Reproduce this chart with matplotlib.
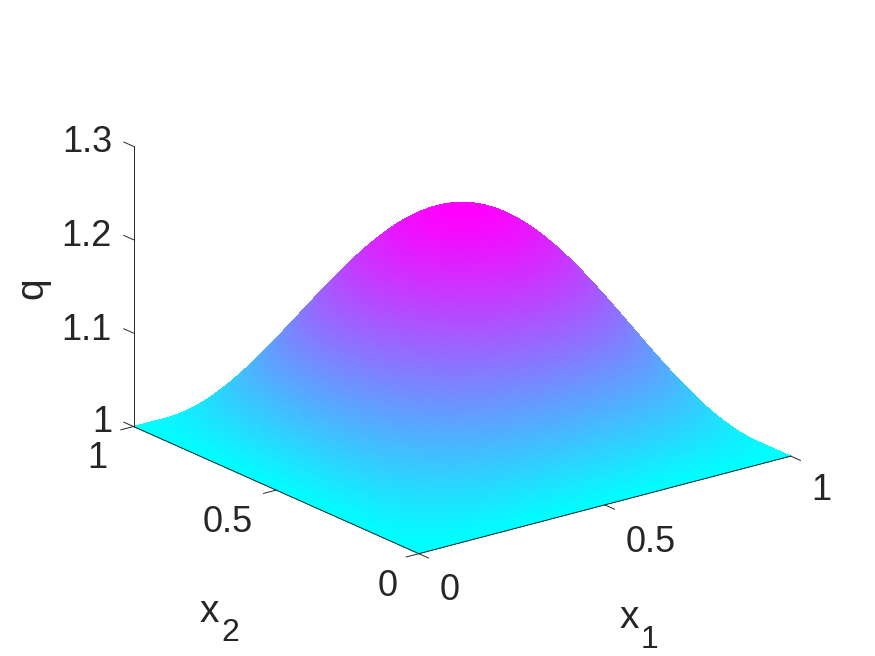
#!/usr/bin/env python
"""Surface q(x1, x2) over the unit square, MATLAB style box-less 3D axes."""
import matplotlib
matplotlib.use("Agg")
import matplotlib.pyplot as plt
import numpy as np
from mpl_toolkits.mplot3d import proj3d

W, H = 875, 656
DARK = "#262626"

# rising half of the bump along one side, as a fraction of the peak height.
# fine steps on purpose, coarser cells show up as a lattice in the flat shading
profile_half = [0.0, 0.0245, 0.0491, 0.0736, 0.098, 0.1224, 0.1467, 0.171,
                0.1951, 0.2191, 0.243, 0.2667, 0.2903, 0.3137, 0.3369, 0.3599,
                0.3827, 0.4052, 0.4276, 0.4496, 0.4714, 0.4929, 0.5141, 0.535,
                0.5556, 0.5758, 0.5957, 0.6152, 0.6344, 0.6532, 0.6716, 0.6895,
                0.7071, 0.7242, 0.741, 0.7572, 0.773, 0.7883, 0.8032, 0.8176,
                0.8315, 0.8449, 0.8577, 0.8702, 0.8819, 0.8932, 0.904, 0.9142,
                0.9239, 0.933, 0.9415, 0.9495, 0.9569, 0.9638, 0.97, 0.9757,
                0.9808, 0.9853, 0.9892, 0.9925, 0.9952, 0.9973, 0.9988, 0.9997,
                1.0]
q_base = 1.0
q_peak = 1.25

x1_ticks = [0, 0.5, 1]
x2_ticks = [0, 0.5, 1]
q_ticks = [1, 1.1, 1.2, 1.3]

plt.rcParams["font.family"] = ["Liberation Sans", "DejaVu Sans"]


def px(x, y):
    return x / W, 1 - y / H


def label(x, y, s, size=26, **kw):
    fig.text(*px(x, y), s, fontsize=size, color=DARK, **kw)


def to_px(x, y, z):
    fig.canvas.draw()
    xd, yd, _ = proj3d.proj_transform(np.array([x]), np.array([y]), np.array([z]), ax.get_proj())
    dx, dy = ax.transData.transform((xd[0], yd[0]))
    return dx, H - dy


p = np.array(profile_half + profile_half[-2::-1])
grid = np.linspace(0, 1, len(p))
X1, X2 = np.meshgrid(grid, grid)
Q = q_base + (q_peak - q_base) * np.outer(p, p)

fig = plt.figure(figsize=(W / 100, H / 100), dpi=100)
ax = fig.add_axes([0, 0, 1, 1], projection="3d", proj_type="ortho",
                  computed_zorder=False)
ax.view_init(elev=20, azim=-127.5)
ax.set_xlim(0, 1, view_margin=0)
ax.set_ylim(0, 1, view_margin=0)
ax.set_zlim(1, 1.3, view_margin=0)
box = (1, 1, 0.636)
zoom = 1.0
ax.set_box_aspect(box, zoom=zoom)
ax.set_axis_off()

# fit the projected box onto the reference corners
for _ in range(2):
    left = to_px(0, 1, 1)
    right = to_px(1, 0, 1)
    zoom *= (790.7 - 133.5) / (right[0] - left[0])
    ax.set_box_aspect(box, zoom=zoom)
left = to_px(0, 1, 1)
pos = ax.get_position(original=True)
ax.set_position([pos.x0 + (133.5 - left[0]) / W, pos.y0 - (426.5 - left[1]) / H,
                 pos.width, pos.height])

surf = ax.plot_surface(X1, X2, Q, cmap="cool", vmin=q_base, vmax=q_peak,
                       rstride=1, cstride=1, linewidth=0, antialiased=False,
                       shade=False, zorder=1)
surf.set_clip_on(False)

# axis lines and ticks
lines = [([0, 1], [0, 0], [1, 1]), ([0, 0], [0, 1], [1, 1]), ([0, 0], [1, 1], [1, 1.3])]
tl = 0.034
for v in x1_ticks:
    lines.append(([v, v], [0, -tl], [1, 1]))
for v in x2_ticks:
    lines.append(([0, -tl], [v, v], [1, 1]))
for v in q_ticks:
    lines.append(([0, 0], [1, 1 + tl], [v, v]))
for xs, ys, zs in lines:
    ln, = ax.plot(xs, ys, zs, color=DARK, lw=0.7, zorder=2, scalex=False, scaley=False)
    ln.set_clip_on(False)
ax.set_xlim(0, 1, view_margin=0)
ax.set_ylim(0, 1, view_margin=0)
ax.set_zlim(1, 1.3, view_margin=0)

# tick labels
label(112, 143, "1.3", ha="right", va="center")
label(112, 236, "1.2", ha="right", va="center")
label(112, 330, "1.1", ha="right", va="center")
label(112, 423, "1", ha="right", va="center")
label(107, 459, "1", ha="right", va="center")
label(228, 523, "0.5", ha="center", va="center")
label(388, 587, "0", ha="center", va="center")
label(450, 590, "0", ha="center", va="center")
label(651, 542, "0.5", ha="center", va="center")
label(821, 491, "1", ha="center", va="center")

# axis labels, subscripts set by hand since they sit low and large in the reference
label(200, 622, "x", size=28, ha="left", va="baseline")
label(221, 641, "2", size=23, ha="left", va="baseline")
label(620, 628, "x", size=28, ha="left", va="baseline")
label(641, 648, "1", size=23, ha="left", va="baseline")
label(32, 288, "q", size=28, rotation=90, ha="center", va="center")

fig.savefig("out.png", dpi=100)
